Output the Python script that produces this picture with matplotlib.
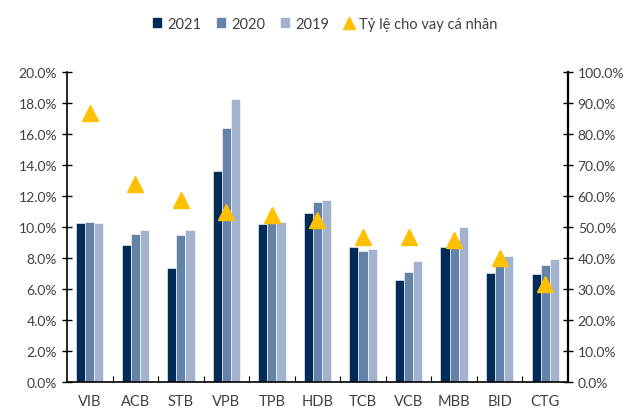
import numpy as np
import matplotlib.pyplot as plt
from matplotlib.ticker import FuncFormatter, MultipleLocator
from matplotlib.lines import Line2D
from matplotlib.patches import Patch

plt.rcParams['font.family'] = ['Lato', 'DejaVu Sans']

banks = ['VIB', 'ACB', 'STB', 'VPB', 'TPB', 'HDB', 'TCB', 'VCB', 'MBB', 'BID', 'CTG']
y2021 = [10.28, 8.84, 7.33, 13.61, 10.21, 10.92, 8.71, 6.60, 8.69, 7.03, 6.99]
y2020 = [10.32, 9.53, 9.46, 16.36, 10.30, 11.61, 8.47, 7.12, 8.69, 7.60, 7.53]
y2019 = [10.24, 9.78, 9.78, 18.26, 10.30, 11.74, 8.56, 7.79, 10.00, 8.15, 7.94]
retail_share = [86.8, 63.9, 58.8, 54.7, 54.0, 52.2, 46.8, 46.8, 45.9, 39.9, 31.7]

c21, c20, c19, ctri = '#002c57', '#6582a8', '#a3b3cd', '#ffc000'
grey = '#404040'

fig = plt.figure(figsize=(6.3, 4.1), dpi=100)
ax = fig.add_axes([0.1063, 0.0659, 0.7953, 0.7561])
x = np.arange(len(banks))
w = 0.2
ax.bar(x - w, y2021, w, color=c21, edgecolor='white', lw=0.4)
ax.bar(x, y2020, w, color=c20, edgecolor='white', lw=0.4)
ax.bar(x + w, y2019, w, color=c19, edgecolor='white', lw=0.4)
ax.set_xlim(-0.5, len(banks) - 0.5)
ax.set_ylim(0, 20)
ax.yaxis.set_major_locator(MultipleLocator(2))
ax.yaxis.set_major_formatter(FuncFormatter(lambda v, p: f'{v:.1f}%'))
ax.set_xticks(x)
ax.set_xticklabels(banks)
ax.set_xticks(np.arange(0.5, len(banks) - 1, 1), minor=True)
ax.tick_params(axis='x', which='major', length=0, pad=9, labelsize=10.5, labelcolor=grey)
ax.tick_params(axis='x', which='minor', direction='in', length=4, width=0.8)
ax.tick_params(axis='y', direction='inout', length=7, width=1, labelsize=10, labelcolor=grey)
ax.spines['top'].set_visible(False)
ax.spines['right'].set_visible(False)
ax.spines['left'].set_linewidth(1.2)
ax.spines['bottom'].set_linewidth(1.2)

ax2 = ax.twinx()
ax2.plot(x, retail_share, ls='none', marker='^', ms=12, color=ctri)
ax2.set_ylim(0, 100)
ax2.yaxis.set_major_locator(MultipleLocator(10))
ax2.yaxis.set_major_formatter(FuncFormatter(lambda v, p: f'{v:.1f}%'))
ax2.tick_params(axis='y', direction='inout', length=7, width=1, labelsize=10, labelcolor=grey)
ax2.spines['top'].set_visible(False)
ax2.spines['left'].set_visible(False)
ax2.spines['bottom'].set_visible(False)
ax2.spines['right'].set_linewidth(1.6)

handles = [Patch(color=c21, label='2021'), Patch(color=c20, label='2020'),
           Patch(color=c19, label='2019'),
           Line2D([], [], ls='none', marker='^', ms=9, color=ctri, label='Tỷ lệ cho vay cá nhân')]
fig.legend(handles=handles, loc='center', bbox_to_anchor=(0.516, 0.939), ncol=4, frameon=False,
           fontsize=10.5, labelcolor=grey, handlelength=0.55, handleheight=0.55,
           handletextpad=0.4, columnspacing=1.1)

fig.savefig('out.png', dpi=100)
